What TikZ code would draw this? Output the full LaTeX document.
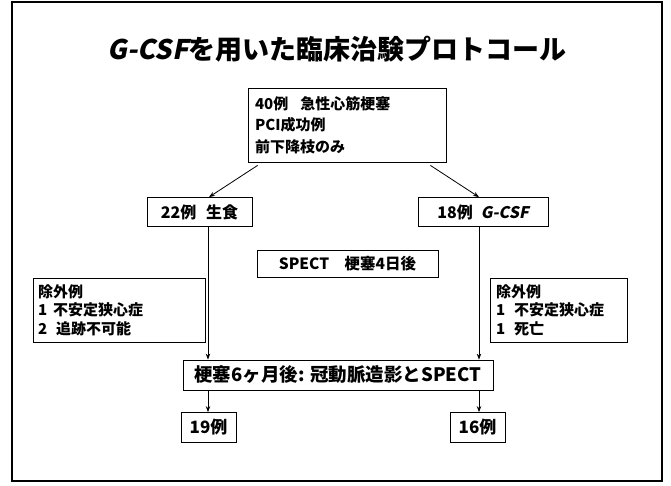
\documentclass[tikz,border=0pt]{standalone}
\usepackage{fontspec}
\setmainfont{Noto Sans CJK JP}
\newfontfamily\slfont{Noto Sans CJK JP}[FakeSlant=0.2]
\usetikzlibrary{arrows.meta}
\begin{document}
\begin{tikzpicture}[x=1pt,y=-1pt,
  box/.style={draw,line width=0.8pt,inner sep=0pt,font=\bfseries\fontsize{16}{21.5}\selectfont},
  small/.style={box,font=\bfseries\fontsize{15}{18.5}\selectfont},
  arr/.style={line width=0.8pt,-{Stealth[length=6pt,width=4.5pt]}}]
\useasboundingbox (0,0) rectangle (671,485);
\draw[line width=2.5pt] (12,2) rectangle (662,481);
\node[font=\bfseries\fontsize{27}{32}\selectfont] (title) at (337,49) {{\slfont G-CSF}を用いた臨床治験プロトコール};
\node[box,font=\bfseries\fontsize{15}{21.5}\selectfont,minimum width=198pt,minimum height=74pt,text width=184pt,align=left] (top) at (347,125)
  {40例\hspace{0.8em}急性心筋梗塞\\PCI成功例\\前下降枝のみ};
\node[box,minimum width=105pt,minimum height=29pt] (n22) at (199.5,212) {22例\hspace{0.6em}生食};
\node[box,minimum width=130pt,minimum height=29pt] (n18) at (483,212) {18例\hspace{0.5em}{\slfont G-CSF}};
\node[box,font=\bfseries\fontsize{15.5}{20}\selectfont,minimum width=181pt,minimum height=27pt] (spect) at (347.5,263.5) {SPECT\hspace{1em}梗塞4日後};
\node[small,minimum width=172pt,minimum height=64pt,text width=162pt,align=left] (exl) at (119,310)
  {除外例\\1\hspace{0.4em}不安定狭心症\\2\hspace{0.6em}追跡不可能};
\node[small,minimum width=137pt,minimum height=64pt,text width=125pt,align=left] (exr) at (558.5,310)
  {除外例\\1\hspace{0.6em}不安定狭心症\\1\hspace{0.6em}死亡};
\node[box,font=\bfseries\fontsize{18.5}{22}\selectfont,minimum width=310pt,minimum height=30pt] (six) at (338,375) {梗塞6ヶ月後: 冠動脈造影とSPECT};
\node[box,font=\bfseries\fontsize{17}{21}\selectfont,minimum width=55pt,minimum height=30pt] (n19) at (208.5,427.5) {19例};
\node[box,font=\bfseries\fontsize{17}{21}\selectfont,minimum width=55pt,minimum height=30pt] (n16) at (477.5,427.5) {16例};
\coordinate (lx) at (208,0);
\coordinate (rx) at (479,0);
\draw[arr] ([xshift=10pt,yshift=-3pt]top.south west) -- ([xshift=9.5pt]n22.north);
\draw[arr] ([xshift=-16pt,yshift=-3pt]top.south east) -- ([xshift=-4pt]n18.north);
\draw[arr] (n22.south -| lx) -- (six.north -| lx);
\draw[arr] (n18.south -| rx) -- (six.north -| rx);
\draw[arr] (six.south -| lx) -- (n19.north -| lx);
\draw[arr] (six.south -| rx) -- (n16.north -| rx);
\end{tikzpicture}
\end{document}
